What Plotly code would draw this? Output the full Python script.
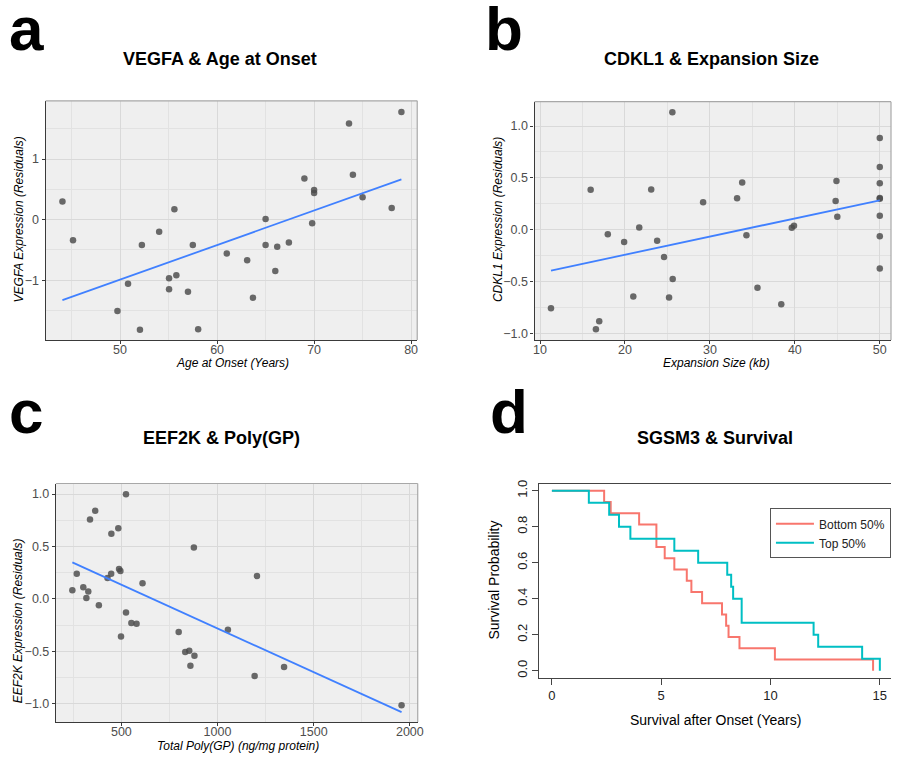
import numpy as np
import plotly.graph_objects as go

# ---------------- data ----------------
# a: VEGFA vs age at onset
age_onset = [44.06, 45.15, 49.73, 50.82, 52.05, 52.25, 54.03, 55.05, 55.05, 55.6, 55.8, 57.0, 57.5, 58.05,
             61.0, 63.1, 63.7, 65.0, 65.0, 66.0, 66.2, 67.4, 69.0, 69.8, 70.0, 70.0, 73.6, 74.0, 75.0, 78.0, 79.0]
vegfa_resid = [0.30, -0.34, -1.51, -1.06, -1.82, -0.42, -0.20, -0.97, -1.15, 0.17, -0.92, -1.19, -0.42, -1.81,
               -0.56, -0.67, -1.29, 0.01, -0.42, -0.85, -0.45, -0.38, 0.68, -0.06, 0.49, 0.44, 1.59, 0.74, 0.37, 0.19, 1.78]

# b: CDKL1 vs expansion size
expansion_kb = [11.29, 15.96, 16.58, 16.97, 17.98, 19.9, 20.98, 21.68, 23.09, 23.79, 24.6, 25.19, 25.58, 25.62,
                29.2, 33.2, 33.8, 34.3, 35.6, 38.4, 39.64, 39.9, 44.8, 44.9, 45.0,
                50, 50, 50, 50, 50, 50, 50, 50]
cdkl1_resid = [-0.757, 0.385, -0.96, -0.884, -0.045, -0.118, -0.645, 0.022, 0.388, -0.108, -0.264, -0.655, 1.132, -0.477,
               0.264, 0.302, 0.455, -0.054, -0.56, -0.72, 0.019, 0.038, 0.277, 0.47, 0.124,
               0.884, 0.604, 0.448, 0.305, 0.298, 0.134, -0.064, -0.375]

# c: EEF2K vs poly(GP)
polygp = [245, 268, 302, 318, 328, 337, 364, 383, 428, 447, 448, 484, 488, 495, 498, 524, 524, 552, 579, 610,
          798, 832, 853, 859, 877, 880, 1054, 1193, 1205, 1346, 1957]
eef2k_resid = [0.082, 0.24, 0.11, 0.009, 0.07, 0.758, 0.84, -0.06, 0.20, 0.24, 0.622, 0.673, 0.284, 0.265, -0.36,
               0.998, -0.13, -0.23, -0.237, 0.148, -0.316, -0.506, -0.496, -0.638, 0.49, -0.543, -0.294, -0.736,
               0.218, -0.651, -1.014]

# d: Kaplan-Meier, SGSM3 expression groups
bottom_times = [0, 2.39, 2.69, 3.99, 4.78, 5.16, 5.6, 6.17, 6.38, 6.87, 7.78, 7.97, 8.08, 8.58, 10.2, 14.69]
bottom_surv = [1.0, 0.9375, 0.875, 0.8125, 0.6875, 0.625, 0.5625, 0.5, 0.4375, 0.375, 0.3125, 0.25, 0.1875,
               0.125, 0.0625, 0.0]
top_times = [0, 1.69, 2.62, 3.07, 3.59, 5.6, 6.69, 8.02, 8.2, 8.29, 8.68, 11.97, 12.18, 14.19, 15.0]
top_surv = [1.0, 0.9333, 0.8667, 0.8, 0.7333, 0.6667, 0.6, 0.5333, 0.4667, 0.4, 0.2667, 0.2, 0.1333, 0.0667, 0.0]

# ---------------- layout helpers ----------------
W, H = 897, 760
def dx(l, r):
    return [l / W, min(r / W, 1.0)]
def dy(t, b):
    return [1 - b / H, 1 - t / H]

FONT = "Liberation Sans, Arial, Helvetica, sans-serif"
PT_COLOR = "rgba(75,75,75,0.82)"
LINE_BLUE = "#4080FF"
GRID = "#D9D9D9"
MINOR = "#E2E2E2"
PANEL_BG = "#EFEFEF"

fig = go.Figure()

def fit_line(x, y):
    x = np.asarray(x, float); y = np.asarray(y, float)
    m, c = np.polyfit(x, y, 1)
    xs = np.array([x.min(), x.max()])
    return xs, m * xs + c

panels = [
    ("x", "y", age_onset, vegfa_resid),
    ("x2", "y2", expansion_kb, cdkl1_resid),
    ("x3", "y3", polygp, eef2k_resid),
]
for xa, ya, xv, yv in panels:
    fig.add_trace(go.Scatter(x=xv, y=yv, mode="markers", xaxis=xa, yaxis=ya, showlegend=False,
                             marker=dict(size=6.5, color=PT_COLOR, line=dict(width=0)), cliponaxis=False))
    lx, ly = fit_line(xv, yv)
    fig.add_trace(go.Scatter(x=lx, y=ly, mode="lines", xaxis=xa, yaxis=ya, showlegend=False,
                             line=dict(color=LINE_BLUE, width=1.8)))

fig.add_trace(go.Scatter(x=bottom_times, y=bottom_surv, mode="lines", line_shape="hv", name="Bottom 50%",
                         xaxis="x4", yaxis="y4", line=dict(color="#F8766D", width=2)))
fig.add_trace(go.Scatter(x=top_times, y=top_surv, mode="lines", line_shape="hv", name="Top 50%",
                         xaxis="x4", yaxis="y4", line=dict(color="#00BFC4", width=2)))

def gg_axis(domain, rng, dtick, minor_dtick, fmt=None, anchor=None, standoff=0):
    d = dict(domain=domain, range=rng, dtick=dtick, tick0=0, showgrid=True, gridcolor=GRID, gridwidth=1.1,
             zeroline=False, showline=True, linecolor="#3a3a3a", linewidth=1.2, ticks="outside", ticklen=3,
             tickcolor="#3a3a3a", tickfont=dict(family=FONT, size=12.5, color="#4D4D4D"),
             minor=dict(dtick=minor_dtick, tick0=0, showgrid=True, gridcolor=MINOR, gridwidth=0.8, ticklen=0),
             anchor=anchor, fixedrange=True, ticklabelstandoff=standoff)
    if fmt:
        d["tickformat"] = fmt
    return d

fig.update_layout(
    xaxis=gg_axis(dx(45, 419.5), [42.33, 80.63], 10, 5, anchor="y", standoff=-5),
    yaxis=gg_axis(dy(97.5, 338.3), [-1.99, 1.962], 1, 0.5, anchor="x"),
    xaxis2=gg_axis(dx(537.7, 897), [9.35, 51.32], 10, 5, anchor="y2", standoff=-5),
    yaxis2=gg_axis(dy(98.3, 338.3), [-1.065, 1.235], 0.5, 0.25, fmt=".1f", anchor="x2"),
    xaxis3=gg_axis(dx(55.3, 420), [159.4, 2041], 500, 250, anchor="y3", standoff=-5),
    yaxis3=gg_axis(dy(482.7, 722.7), [-1.174, 1.10], 0.5, 0.25, fmt=".1f", anchor="x3"),
    xaxis4=dict(domain=dx(542, 897), range=[-0.6, 15.51], dtick=5, tick0=0, showgrid=False, zeroline=False,
                showline=True, linecolor="#444", linewidth=1.1, mirror=True, ticks="outside", ticklen=6,
                tickcolor="#444", tickfont=dict(family=FONT, size=13, color="#222"), anchor="y4", fixedrange=True),
    yaxis4=dict(domain=dy(482.7, 678.3), range=[-0.04, 1.04], dtick=0.2, tick0=0, tickformat=".1f",
                showgrid=False, zeroline=False, showline=True, linecolor="#444", linewidth=1.1,
                ticks="outside", ticklen=6, tickcolor="#444", tickangle=-90,
                tickfont=dict(family=FONT, size=13, color="#222"), anchor="x4", fixedrange=True),
    width=W, height=H, margin=dict(l=0, r=0, t=0, b=0),
    paper_bgcolor="white", plot_bgcolor="white",
    font=dict(family=FONT, color="black"),
    legend=dict(x=775 / W, y=1 - 507.7 / H, xanchor="left", yanchor="top", bgcolor="white",
                bordercolor="#555", borderwidth=1, font=dict(family=FONT, size=12, color="#222"),
                tracegroupgap=0, itemwidth=38),
)

shapes = []
for xa, ya in [("x", "y"), ("x2", "y2"), ("x3", "y3")]:
    shapes.append(dict(type="rect", xref=f"{xa} domain", yref=f"{ya} domain", x0=0, x1=1, y0=0, y1=1,
                       fillcolor=PANEL_BG, line=dict(width=0), layer="below"))
    shapes.append(dict(type="line", xref=f"{xa} domain", yref=f"{ya} domain", x0=0, x1=1, y0=1, y1=1,
                       line=dict(color="#A8A8A8", width=1.2), layer="above"))
    shapes.append(dict(type="line", xref=f"{xa} domain", yref=f"{ya} domain", x0=1, x1=1, y0=0, y1=1,
                       line=dict(color="#A8A8A8", width=1.2), layer="above"))
fig.update_layout(shapes=shapes)

ann = []
def add_text(text, x, y, size, bold=False, italic=False, angle=0, xanchor="center", yanchor="middle", color="black"):
    t = text
    if bold:
        t = f"<b>{t}</b>"
    if italic:
        t = f"<i>{t}</i>"
    ann.append(dict(text=t, x=x / W, y=1 - y / H, xref="paper", yref="paper", showarrow=False,
                    xanchor=xanchor, yanchor=yanchor, textangle=angle,
                    font=dict(family=FONT, size=size, color=color)))

# panel letters
add_text("a", 6, 25, 62, bold=True, xanchor="left")
add_text("b", 486, 25, 62, bold=True, xanchor="left")
add_text("c", 6, 410, 62, bold=True, xanchor="left")
add_text("d", 491, 410, 62, bold=True, xanchor="left")
# titles
add_text("VEGFA &amp; Age at Onset", 221, 55, 18, bold=True)
add_text("CDKL1 &amp; Expansion Size", 716, 55, 18, bold=True)
add_text("EEF2K &amp; Poly(GP)", 222, 437, 18, bold=True)
add_text("SGSM3 &amp; Survival", 720, 437, 18, bold=True)
# axis titles
add_text("Age at Onset (Years)", 233, 361.5, 12, italic=True)
add_text("VEGFA Expression (Residuals)", 18.3, 216.7, 12, italic=True, angle=-90)
add_text("Expansion Size (kb)", 720.8, 361.5, 12, italic=True)
add_text("CDKL1 Expression (Residuals)", 500.7, 216.7, 12, italic=True, angle=-90)
add_text("Total Poly(GP) (ng/mg protein)", 239, 746.5, 12, italic=True)
add_text("EEF2K Expression (Residuals)", 16.7, 620.8, 12, italic=True, angle=-90)
add_text("Survival after Onset (Years)", 720, 720.5, 14)
add_text("Survival Probability", 497.3, 580, 14, angle=-90)
fig.update_layout(annotations=ann)

fig.write_html("out.html", config={"displayModeBar": False},
               post_script="document.body.style.margin='0px';document.body.style.overflow='hidden';")
